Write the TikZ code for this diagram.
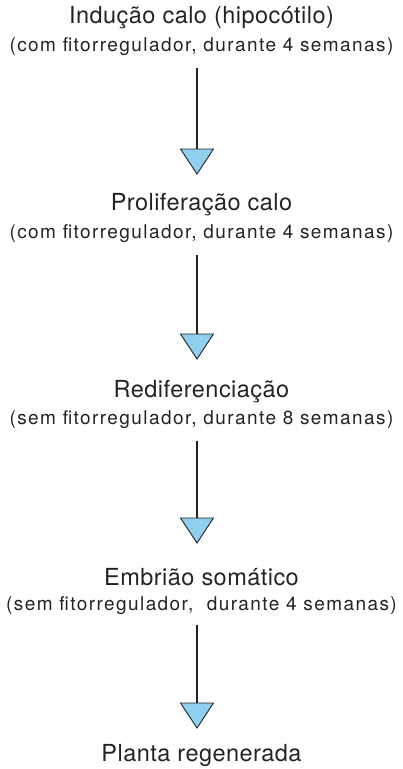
\documentclass[tikz,border=0pt]{standalone}
\usepackage{fontspec}
\newfontfamily\titlefont[LetterSpace=2]{TeX Gyre Heros}
\newfontfamily\subfont[LetterSpace=7.5]{TeX Gyre Heros}
\definecolor{tri}{RGB}{142,208,238}
\definecolor{ink}{RGB}{35,35,35}
\begin{document}
\begin{tikzpicture}[x=1pt,y=-1pt,
  ttl/.style={inner sep=0pt,text=ink,font=\titlefont\fontsize{23.5}{27}\selectfont},
  sub/.style={inner sep=0pt,text=ink,font=\subfont\fontsize{19}{22}\selectfont},
  conn/.style={draw=ink,line width=1.1pt},
  tip/.style={draw=ink,fill=tri,line width=0.9pt,line join=miter}]
\useasboundingbox (0,0) rectangle (403,769);
\node[ttl] (t1) at (201.5,18) {Indução calo (hipocótilo)};
\node[sub] (s1) at (201.5,47) {(com fitorregulador, durante 4 semanas)};
\node[ttl] (t2) at (201.5,205) {Proliferação calo};
\node[sub] (s2) at (201.5,234) {(com fitorregulador, durante 4 semanas)};
\node[ttl] (t3) at (201.5,392) {Rediferenciação};
\node[sub] (s3) at (201.5,420) {(sem fitorregulador, durante 8 semanas)};
\node[ttl] (t4) at (201.5,577) {Embrião somático};
\node[sub] (s4) at (201.5,606) {(sem fitorregulador,\ \ durante 4 semanas)};
\node[ttl] (t5) at (201.5,755) {Planta regenerada};
\foreach \a/\b in {68/149,255/334,441/518,625/703}{
  \coordinate (p) at (197,\a);
  \coordinate (q) at (197,\b);
  \draw[conn] (p) -- (q);
  \draw[tip] (180.5,\b) -- (213.5,\b) -- (197,\b+25) -- cycle;
}
\end{tikzpicture}
\end{document}
